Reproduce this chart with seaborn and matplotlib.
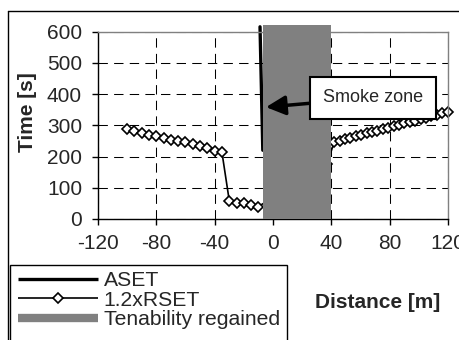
import matplotlib
matplotlib.use("Agg")
import matplotlib.pyplot as plt
import seaborn as sns
import pandas as pd
from matplotlib.lines import Line2D
from matplotlib.patches import Rectangle

# ---- data ----
RSET_LEFT_X = [-100, -95, -90, -85, -80, -75, -70, -65, -60, -55, -50, -45, -40, -35,
               -30, -25, -20, -15, -10]
RSET_LEFT_Y = [288, 282, 276, 270, 265, 259, 253, 250, 245, 239, 233, 227, 219, 213,
               59, 50, 50, 45, 40]
RSET_HIDDEN_X = [37]
RSET_HIDDEN_Y = [175]
RSET_RIGHT_X = [42, 45.7, 49.4, 53.1, 56.8, 60.5, 64.2, 67.9, 71.6, 75.3, 79,
                82.7, 86.4, 90.1, 93.8, 97.5, 101.2, 104.9, 108.6, 112.3, 116, 119.7]
RSET_RIGHT_Y = [247, 251, 256, 260, 265, 270, 274, 279, 283, 288, 292,
                297, 301, 306, 311, 315, 320, 324, 329, 333, 338, 343]

ASET_X = [-8.9, -7.0]
ASET_Y = [615, 220]

ZONE_X = [-7, 40]
ZONE_TOP = 620

X_TICKS = [-120, -80, -40, 0, 40, 80, 120]
Y_TICKS = [0, 100, 200, 300, 400, 500, 600]

SERIES = ["ASET", "1.2xRSET", "Tenability regained"]
X_LABEL = "Distance [m]"
Y_LABEL = "Time [s]"
NOTE = "Smoke zone"

sns.set_style("white")
plt.rcParams["font.family"] = ["Liberation Sans", "DejaVu Sans"]
plt.rcParams["axes.unicode_minus"] = False

W, H = 460, 340
fig = plt.figure(figsize=(W / 100, H / 100), dpi=100)
ax = fig.add_axes([98 / W, 1 - 219 / H, (448 - 98) / W, (219 - 31.5) / H])

rset = pd.DataFrame({
    "x": RSET_LEFT_X + RSET_HIDDEN_X + RSET_RIGHT_X,
    "y": RSET_LEFT_Y + RSET_HIDDEN_Y + RSET_RIGHT_Y,
})
aset = pd.DataFrame({"x": ASET_X, "y": ASET_Y})

sns.lineplot(data=aset, x="x", y="y", ax=ax, color="black", lw=2.4,
             sort=False, estimator=None, zorder=2)
ax.lines[-1].set_clip_on(False)
sns.lineplot(data=rset, x="x", y="y", ax=ax, color="black", lw=1.2,
             marker="D", markersize=5, markerfacecolor="white",
             markeredgecolor="black", markeredgewidth=1.2,
             sort=False, estimator=None, zorder=2)
ax.lines[-1].set_clip_on(False)

ax.fill_between(ZONE_X, 0, ZONE_TOP, color="#808080", lw=0, zorder=3,
                clip_on=False)

ax.set_xlim(-120, 120)
ax.set_ylim(0, 600)
ax.set_xticks(X_TICKS)
ax.set_yticks(Y_TICKS)
ax.tick_params(axis="both", which="major", direction="out", length=4.5,
               width=1, color="black", labelsize=15, left=True, bottom=True)
ax.tick_params(axis="y", pad=7)
ax.tick_params(axis="x", pad=6.5)

ax.grid(True, color="black", lw=0.75, linestyle=(0, (9, 6)), zorder=0)
ax.set_axisbelow(True)

for s in ["left", "bottom"]:
    ax.spines[s].set_color("black")
    ax.spines[s].set_linewidth(1.0)
for s in ["top", "right"]:
    ax.spines[s].set_color("#808080")
    ax.spines[s].set_linewidth(1.0)
    ax.spines[s].set_visible(True)

ax.set_xlabel("")
ax.set_ylabel(Y_LABEL, fontsize=15, fontweight="bold")
ax.yaxis.set_label_coords(-0.175, 0.57)
fig.text(378 / W, 1 - 302 / H, X_LABEL, fontsize=15, fontweight="bold",
         ha="center", va="center")

ax.annotate(NOTE, xy=(-4.8, 358), xytext=(68.6, 388), fontsize=13,
            ha="center", va="center", zorder=5,
            bbox=dict(boxstyle="square,pad=0.7", fc="white", ec="black", lw=1.5),
            arrowprops=dict(arrowstyle="-|>,head_length=0.9,head_width=0.45",
                            color="black", lw=2.5, shrinkA=0, shrinkB=0))

# outer chart frame
fig.add_artist(Line2D([8 / W, 1.01], [1 - 11 / H, 1 - 11 / H], color="black",
                      lw=1, transform=fig.transFigure))
fig.add_artist(Line2D([8 / W, 8 / W], [1 - 11 / H, -0.01], color="black",
                      lw=1, transform=fig.transFigure))

# legend frame (extends past the bottom edge)
fig.add_artist(Rectangle((10.5 / W, -0.05), (287 - 10.5) / W, (1 - 265 / H) + 0.05,
                         fill=False, ec="black", lw=1, transform=fig.transFigure))

handles = [
    Line2D([], [], color="black", lw=2.4, solid_capstyle="butt"),
    Line2D([], [], color="black", lw=1.2, marker="D", markersize=5,
           markerfacecolor="white", markeredgecolor="black", markeredgewidth=1.2,
           markevery=[1], solid_capstyle="butt"),
    Line2D([], [], color="#808080", lw=6, solid_capstyle="butt"),
]
leg = fig.legend(handles, SERIES, loc="upper left",
                 bbox_to_anchor=(14 / W, 1 - 267 / H), frameon=False,
                 fontsize=15.2, handlelength=3.8, handletextpad=0.25,
                 labelspacing=0.02, borderpad=0.2, borderaxespad=0)

fig.savefig("out.png", dpi=100)
